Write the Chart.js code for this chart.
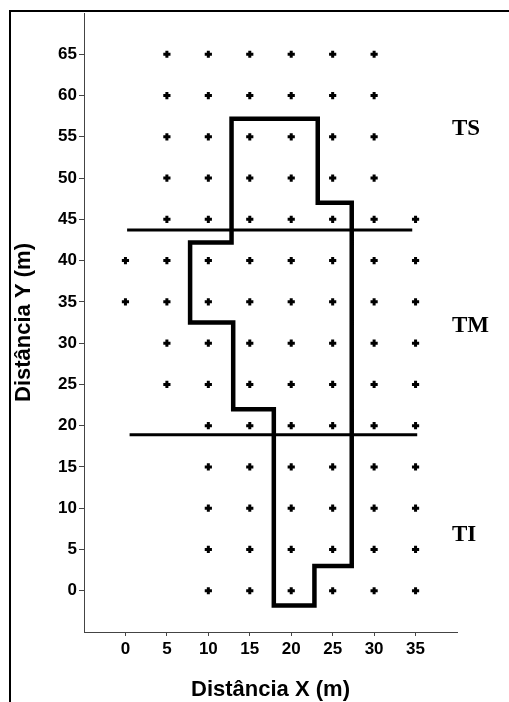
<!DOCTYPE html>
<html>
<head>
    <meta charset="utf-8">
    <title>Distância X / Y</title>
    <script src="https://cdn.jsdelivr.net/npm/chart.js"></script>
    <style>
        body { margin: 0; background: #fff; }
        canvas { display: block; }
    </style>
</head>
<body>
    <canvas id="mapa" width="509" height="702"></canvas>
    <script>
        // pontos da malha, linha por linha
        var rowY = [65, 60, 55, 50, 45, 40, 35, 30, 25, 20, 15, 10, 5, 0];
        var rowX = [
            [5, 10, 15, 20, 25, 30],
            [5, 10, 15, 20, 25, 30],
            [5, 10, 15, 20, 25, 30],
            [5, 10, 15, 20, 25, 30],
            [5, 10, 15, 20, 25, 30, 35],
            [0, 5, 10, 15, 20, 25, 30, 35],
            [0, 5, 10, 15, 20, 25, 30, 35],
            [5, 10, 15, 20, 25, 30, 35],
            [5, 10, 15, 20, 25, 30, 35],
            [10, 15, 20, 25, 30, 35],
            [10, 15, 20, 25, 30, 35],
            [10, 15, 20, 25, 30, 35],
            [10, 15, 20, 25, 30, 35],
            [10, 15, 20, 25, 30, 35]
        ];

        // contorno da parcela
        var contornoX = [12.8, 23.2, 23.2, 27.3, 27.3, 22.8, 22.8, 17.9, 17.9, 13.0, 13.0, 7.8, 7.8, 12.8, 12.8];
        var contornoY = [57.2, 57.2, 47.0, 47.0, 3.0, 3.0, -1.8, -1.8, 22.0, 22.0, 32.5, 32.5, 42.2, 42.2, 57.2];

        // linhas divisorias entre os tercos
        var linhaSupX = [0.2, 34.6];
        var linhaSupY = [43.7, 43.7];
        var linhaInfX = [0.5, 35.2];
        var linhaInfY = [18.9, 18.9];

        // rotulos dos tercos
        var tercos = ['TS', 'TM', 'TI'];
        var tercosY = [55.9, 32.1, 6.8];
        var tercosX = 39.4;

        var xTicks = [0, 5, 10, 15, 20, 25, 30, 35];
        var yTicks = [0, 5, 10, 15, 20, 25, 30, 35, 40, 45, 50, 55, 60, 65];

        var pontos = [];
        for (var i = 0; i < rowY.length; i++) {
            for (var j = 0; j < rowX[i].length; j++) {
                pontos.push({ x: rowX[i][j], y: rowY[i] });
            }
        }
        function pares(xs, ys) {
            return xs.map(function(v, k) { return { x: v, y: ys[k] }; });
        }

        var moldura = {
            id: 'moldura',
            beforeDraw: function(chart) {
                var c = chart.ctx;
                c.save();
                c.fillStyle = '#fff';
                c.fillRect(0, 0, chart.width, chart.height);
                c.fillStyle = '#000';
                c.fillRect(9, 10, 2, chart.height - 10);
                c.fillRect(9, 10, chart.width - 9, 2);
                c.restore();
            },
            afterDatasetsDraw: function(chart) {
                var c = chart.ctx;
                var sx = chart.scales.x, sy = chart.scales.y;
                c.save();
                c.fillStyle = '#000';
                c.font = 'bold 23px "Liberation Serif", "Times New Roman", serif';
                c.textAlign = 'left';
                c.textBaseline = 'middle';
                for (var k = 0; k < tercos.length; k++) {
                    c.fillText(tercos[k], sx.getPixelForValue(tercosX), sy.getPixelForValue(tercosY[k]));
                }
                c.restore();
            }
        };

        var tickFont = { family: '"Liberation Sans", Arial, sans-serif', size: 17, weight: 'bold' };
        var titleFont = { family: '"Liberation Sans", Arial, sans-serif', size: 22, weight: 'bold', lineHeight: 1 };

        new Chart(document.getElementById('mapa'), {
            type: 'scatter',
            data: {
                datasets: [{
                    label: 'Pontos',
                    data: pontos,
                    pointStyle: 'cross',
                    pointRadius: 3.6,
                    pointBorderWidth: 3,
                    borderColor: '#000',
                    backgroundColor: '#000'
                }, {
                    label: 'Contorno',
                    data: pares(contornoX, contornoY),
                    showLine: true,
                    pointRadius: 0,
                    borderWidth: 4.5,
                    borderColor: '#000',
                    borderJoinStyle: 'miter',
                    borderCapStyle: 'square'
                }, {
                    label: 'Linha superior',
                    data: pares(linhaSupX, linhaSupY),
                    showLine: true,
                    pointRadius: 0,
                    borderWidth: 3,
                    borderColor: '#000'
                }, {
                    label: 'Linha inferior',
                    data: pares(linhaInfX, linhaInfY),
                    showLine: true,
                    pointRadius: 0,
                    borderWidth: 3,
                    borderColor: '#000'
                }]
            },
            options: {
                responsive: false,
                animation: false,
                layout: { padding: { top: 13, right: 52, left: 0, bottom: 0 } },
                plugins: {
                    legend: { display: false },
                    tooltip: { enabled: false }
                },
                scales: {
                    x: {
                        type: 'linear',
                        min: -5,
                        max: 40,
                        afterBuildTicks: function(scale) {
                            scale.ticks = xTicks.map(function(v) { return { value: v }; });
                        },
                        afterFit: function(scale) { scale.height = 70; },
                        grid: { drawOnChartArea: false, drawTicks: true, tickLength: 4, color: '#444' },
                        border: { display: true, color: '#444', width: 1 },
                        ticks: { color: '#000', font: tickFont, padding: 3, maxRotation: 0 },
                        title: { display: true, text: 'Distância X (m)', color: '#000', font: titleFont, padding: { top: 0, bottom: 1 } }
                    },
                    y: {
                        type: 'linear',
                        min: -5,
                        max: 70,
                        afterBuildTicks: function(scale) {
                            scale.ticks = yTicks.map(function(v) { return { value: v }; });
                        },
                        afterFit: function(scale) { scale.width = 84; },
                        grid: { drawOnChartArea: false, drawTicks: true, tickLength: 5, color: '#444' },
                        border: { display: true, color: '#444', width: 1 },
                        ticks: { color: '#000', font: tickFont, padding: 2 },
                        title: { display: true, text: 'Distância Y (m)', color: '#000', font: titleFont, padding: { top: 13, bottom: 0 } }
                    }
                }
            },
            plugins: [moldura]
        });
    </script>
</body>
</html>
